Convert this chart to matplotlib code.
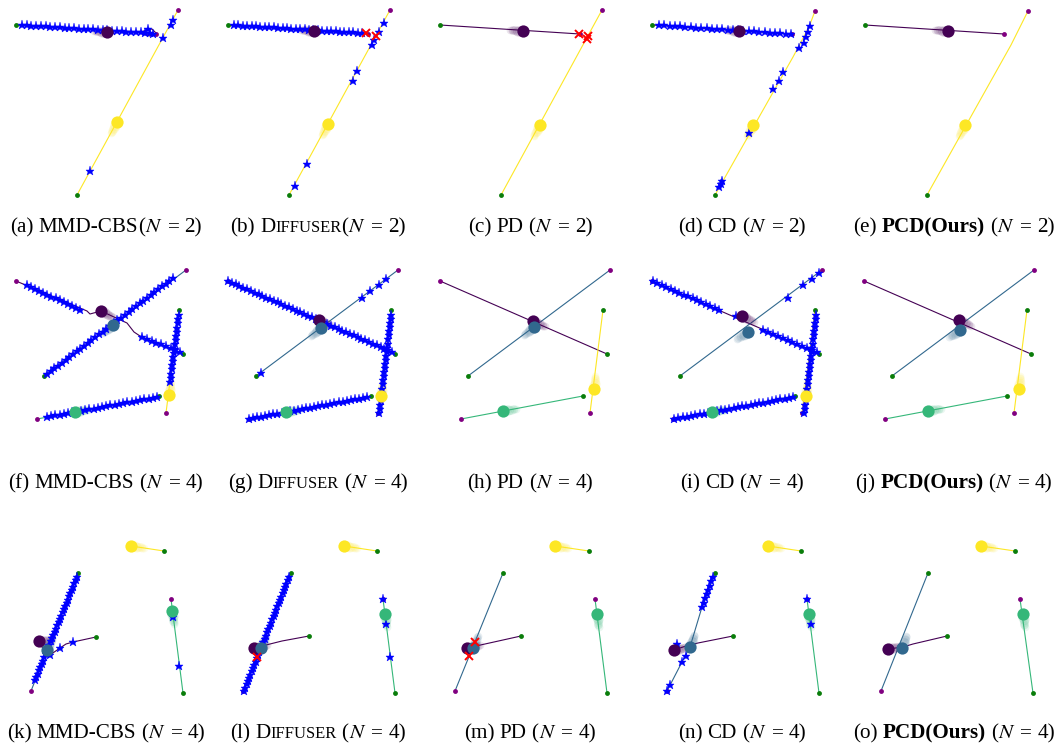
import numpy as np
import matplotlib
matplotlib.use("Agg")
import matplotlib.pyplot as plt

plt.rcParams["font.family"] = ["Liberation Serif", "DejaVu Serif"]
plt.rcParams["mathtext.fontset"] = "stix"

W, H = 1058, 744
COL_W = 212
ROW_TOP = [0, 250, 520]
ROW_H = [215, 215, 200]
CAP_BASE = [232, 488, 738]
FS = 15.2
SP = 5

# agent colours (viridis) and start / goal markers
COLORS_2 = ["#440154", "#fde725"]
COLORS_4 = ["#440154", "#31688e", "#35b779", "#fde725"]
START_COLOR = "#0a7d0a"
GOAL_COLOR = "#800080"

LETTERS = "abcdefghijklmno"
N_AGENTS = [2, 4, 4]

# ---- scene 1, N = 2 (agents: purple, yellow); waypoints start -> goal
R1_PATHS = [
    [[(16, 25), (140, 32), (152, 29), (156, 33), (150, 36), (142, 34), (156, 34)], [(77, 195), (178, 10)]],
    [[(16, 25), (156, 34)], [(77, 195), (178, 10)]],
    [[(16, 25), (156, 34)], [(77, 195), (178, 10)]],
    [[(16, 25), (156, 34)], [(79, 195), (157, 57), (173, 27), (179, 11)]],
    [[(17, 25), (156, 34)], [(79, 195), (163, 45), (180, 11)]],
]
R1_POS = [
    [(107, 32), (117, 122)],
    [(102, 31), (116, 124)],
    [(99, 31), (116, 125)],
    [(103, 31), (117, 125)],
    [(100, 31), (117, 125)],
]
R1_RUNS = [
    [((22, 25), (150, 33), 28)],
    [((22, 25), (150, 33), 30)],
    [],
    [((23, 25), (155, 34), 26)],
    [],
]
R1_STARS = [
    [(148, 29), (153, 34), (163, 38), (171, 25), (173, 20), (90, 171)],
    [(172, 23), (167, 32), (162, 40), (160, 45), (145, 71), (141, 81), (95, 164), (83, 186)],
    [],
    [(174, 26), (172, 32), (170, 37), (168, 43), (163, 48), (147, 72), (143, 81), (137, 89),
     (113, 133), (86, 181), (85, 184), (83, 187)],
    [],
]
R1_CROSSES = [[], [(154, 33), (164, 36)], [(155, 34), (163, 39), (164, 36)], [], []]

# ---- scene 2, N = 4 (agents: purple, blue, teal, yellow)
R2_PURPLE = [(183, 104), (16, 31)]
R2_BLUE = [(44, 126), (186, 20)]
R2_TEAL = [(159, 146), (37, 169)]
R2_YELLOW = [(179, 60), (166, 163)]
R2_PURPLE_F = [(183, 104), (140, 86), (134, 82), (127, 73), (101, 61), (90, 64), (87, 61), (16, 31)]
R2_PATHS = [
    [R2_PURPLE_F, R2_BLUE, R2_TEAL, R2_YELLOW],
    [R2_PURPLE, R2_BLUE, R2_TEAL, R2_YELLOW],
    [R2_PURPLE, R2_BLUE, R2_TEAL, R2_YELLOW],
    [R2_PURPLE, R2_BLUE, R2_TEAL, R2_YELLOW],
    [R2_PURPLE, R2_BLUE, R2_TEAL, R2_YELLOW],
]
R2_POS = [
    [(101, 61), (113, 75), (75, 162), (169, 145)],
    [(107, 70), (109, 78), (74, 162), (169, 146)],
    [(109, 71), (110, 77), (79, 161), (170, 139)],
    [(106, 66), (112, 82), (76, 162), (170, 146)],
    [(111, 70), (112, 80), (80, 161), (171, 139)],
]
R2_RUNS = [
    [((180, 102), (142, 87), 9), ((80, 60), (27, 35), 14), ((47, 124), (173, 28), 35),
     ((47, 167), (157, 147), 27), ((179, 65), (170, 132), 17)],
    [((16, 31), (180, 102), 44), ((37, 169), (155, 147), 30), ((179, 65), (167, 163), 25)],
    [],
    [((17, 31), (83, 60), 16), ((127, 80), (181, 102), 12), ((38, 169), (157, 147), 29),
     ((180, 65), (168, 163), 25)],
    [],
]
R2_STARS = [
    [],
    [(49, 123), (150, 48), (158, 41), (167, 35), (174, 29)],
    [],
    [(100, 66), (152, 48), (167, 35), (176, 29), (183, 23)],
    [],
]
R2_CROSSES = [[], [], [], [], []]

# ---- scene 3, N = 4 (agents: purple, blue, teal, yellow)
R3_PATHS = [
    [[(96, 117), (73, 122), (66, 124), (60, 128), (50, 135), (44, 131), (39, 121)],
     [(78, 53), (31, 171)], [(183, 173), (171, 79)], [(164, 31), (131, 26)]],
    [[(97, 116), (70, 121), (42, 128)],
     [(79, 53), (31, 171)], [(183, 173), (171, 79)], [(165, 31), (132, 26)]],
    [[(97, 116), (43, 128)],
     [(79, 53), (31, 171)], [(183, 173), (171, 79)], [(165, 31), (131, 26)]],
    [[(97, 116), (62, 123), (50, 126), (38, 130)],
     [(79, 53), (66, 87), (54, 127), (46, 142), (31, 171)], [(183, 173), (171, 79)], [(165, 31), (132, 26)]],
    [[(99, 116), (65, 124), (55, 127), (40, 129)],
     [(80, 53), (33, 171)], [(185, 173), (172, 79)], [(167, 31), (133, 26)]],
]
R3_POS = [
    [(39, 121), (47, 130), (172, 91), (131, 26)],
    [(42, 128), (49, 128), (173, 94), (132, 26)],
    [(43, 128), (49, 128), (173, 94), (131, 26)],
    [(38, 130), (54, 127), (173, 94), (132, 26)],
    [(40, 129), (54, 128), (175, 94), (133, 26)],
]
R3_RUNS = [
    [((77, 57), (35, 160), 33)],
    [((77, 57), (32, 171), 36)],
    [],
    [((77, 57), (66, 87), 8)],
    [],
]
R3_STARS = [
    [(73, 122), (60, 128), (50, 135), (173, 97), (179, 146)],
    [(171, 79), (174, 104), (178, 137)],
    [],
    [(50, 136), (46, 142), (34, 165), (31, 171), (41, 124), (171, 79), (175, 104)],
    [],
]
R3_CROSSES = [[], [(45, 137)], [(45, 136), (51, 122)], [], []]


def panel_axes(fig, r, c):
    h = ROW_H[r]
    ax = fig.add_axes([c * COL_W / W, 1 - (ROW_TOP[r] + h) / H, COL_W / W, h / H])
    ax.set_xlim(0, COL_W)
    ax.set_ylim(h, 0)
    ax.axis("off")
    return ax


def draw_panel(ax, paths, pos, colors, runs, stars, crosses):
    # planned trajectories
    for path, col in zip(paths, colors):
        p = np.asarray(path, float)
        ax.plot(p[:, 0], p[:, 1], color=col, lw=0.8, zorder=1)
    # fading trail behind each agent
    for path, cur, col in zip(paths, pos, colors):
        cur = np.asarray(cur, float)
        back = np.asarray(path[0], float) - cur
        u = back / max(np.hypot(*back), 1e-9)
        for i, s in enumerate(np.linspace(1.5, 13, 8)):
            q = cur + u * s
            ax.plot(q[0], q[1], "o", color=col, ms=8.0 - 0.35 * i, alpha=0.1, mew=0, zorder=2)
    # start / goal
    for path in paths:
        ax.plot(*path[0], "o", color=START_COLOR, ms=3.5, mew=0, zorder=3, clip_on=False)
        ax.plot(*path[-1], "o", color=GOAL_COLOR, ms=3.5, mew=0, zorder=3, clip_on=False)
    # collision stars
    star_kw = dict(ls="none", marker="*", color="blue", ms=6.8, mew=0.3, zorder=4, clip_on=False)
    for a, b, n in runs:
        ax.plot(np.linspace(a[0], b[0], n), np.linspace(a[1], b[1], n), **star_kw)
    if stars:
        s = np.asarray(stars, float)
        ax.plot(s[:, 0], s[:, 1], **star_kw)
    # current positions
    for cur, col in zip(pos, colors):
        ax.plot(*cur, "o", color=col, ms=8.8, mew=0, zorder=5)
    if crosses:
        c = np.asarray(crosses, float)
        ax.plot(c[:, 0], c[:, 1], ls="none", marker="x", color="red", ms=5.5, mew=1.4, zorder=6)


def caption_parts(letter, col, n, tight):
    tail = [("(", "rm", 0 if tight else SP), ("$N$", "rm", 0),
            ("=", "rm", 5), ("%d)" % n, "rm", 5)]
    head = ("(%s)" % letter, "rm", 0)
    if col == 0:
        return [head, ("MMD-CBS", "rm", SP)] + tail
    if col == 1:
        return [head, ("D", "rm", SP), ("IFFUSER", "sc", 0)] + tail
    if col == 2:
        return [head, ("PD", "rm", SP)] + tail
    if col == 3:
        return [head, ("CD", "rm", SP)] + tail
    return [head, ("PCD(Ours)", "bf", SP)] + tail


def caption(fig, xc, yb, parts):
    renderer = fig.canvas.get_renderer()
    texts, widths, gaps = [], [], []
    for s, style, gap in parts:
        kw = dict(fontsize=FS)
        if style == "sc":
            kw["fontsize"] = FS * 0.78
        if style == "bf":
            kw["fontweight"] = "bold"
        t = fig.text(0, 1 - yb / H, s, ha="left", va="baseline", **kw)
        texts.append(t)
        widths.append(t.get_window_extent(renderer).width)
        gaps.append(gap)
    x = xc - (sum(widths) + sum(gaps)) / 2
    for t, w, g in zip(texts, widths, gaps):
        x += g
        t.set_x(x / W)
        x += w


def main():
    fig = plt.figure(figsize=(W / 100, H / 100), dpi=100)
    rows = [
        (R1_PATHS, R1_POS, R1_RUNS, R1_STARS, R1_CROSSES),
        (R2_PATHS, R2_POS, R2_RUNS, R2_STARS, R2_CROSSES),
        (R3_PATHS, R3_POS, R3_RUNS, R3_STARS, R3_CROSSES),
    ]
    for r, (paths, pos, runs, stars, crosses) in enumerate(rows):
        colors = COLORS_2 if N_AGENTS[r] == 2 else COLORS_4
        for c in range(5):
            ax = panel_axes(fig, r, c)
            draw_panel(ax, paths[c], pos[c], colors, runs[c], stars[c], crosses[c])
            letter = LETTERS[r * 5 + c]
            tight = (r == 0 and c < 2)
            caption(fig, 106 + COL_W * c, CAP_BASE[r], caption_parts(letter, c, N_AGENTS[r], tight))
    fig.savefig("out.png", dpi=100, facecolor="white")


if __name__ == "__main__":
    main()
